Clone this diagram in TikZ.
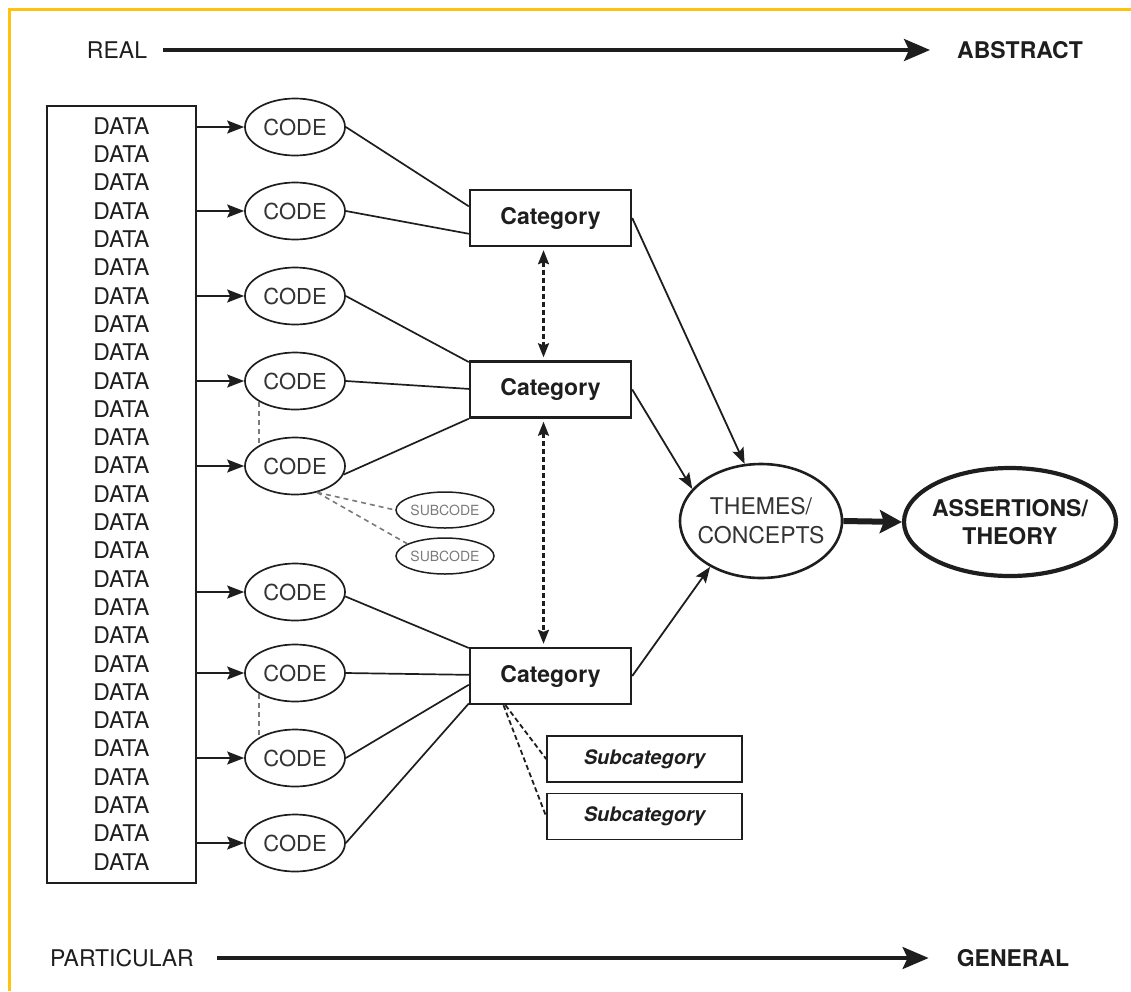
\documentclass[tikz,border=0pt]{standalone}
\usepackage{fontspec}
\setmainfont{TeX Gyre Heros}
\usetikzlibrary{shapes.geometric,arrows.meta,calc}
\definecolor{ink}{HTML}{1E1E1E}
\definecolor{framecol}{HTML}{FFC20E}
\definecolor{dashgray}{HTML}{7A7A7A}
\definecolor{softink}{HTML}{333333}
\begin{document}
\begin{tikzpicture}[x=1pt,y=-1pt,
  txt/.style={font=\fontsize{23}{28}\selectfont, text=ink, inner sep=0pt},
  btxt/.style={font=\fontsize{23}{28}\selectfont\bfseries, text=ink, inner sep=0pt},
  databox/.style={draw=ink, line width=2pt, minimum width=149pt, minimum height=777pt, inner sep=0pt},
  codenode/.style={ellipse, draw=ink, line width=1.7pt, minimum width=100pt, minimum height=57pt, inner sep=0pt, font=\fontsize{22}{26}\selectfont, text=softink},
  catbox/.style={draw=ink, line width=2.4pt, minimum width=161pt, minimum height=56pt, inner sep=0pt, font=\fontsize{23}{26}\selectfont\bfseries, text=ink},
  subcatbox/.style={draw=ink, line width=1.7pt, minimum width=195pt, minimum height=46pt, inner sep=0pt, font=\fontsize{20}{24}\selectfont\bfseries\itshape, text=ink},
  subcodenode/.style={ellipse, draw=ink, line width=1.5pt, minimum width=98pt, minimum height=36pt, inner sep=0pt},
  subcodetxt/.style={font=\fontsize{14}{16}\selectfont, text=dashgray, inner sep=0pt},
  link/.style={draw=ink, line width=1.7pt},
  feed/.style={draw=ink, line width=1.9pt, -{Stealth[length=17pt,width=13pt,inset=3pt]}},
  toward/.style={draw=ink, line width=1.8pt, -{Stealth[length=16pt,width=12pt,inset=3pt]}},
  dbl/.style={draw=ink, line width=2.2pt, dash pattern=on 5pt off 3pt, {Stealth[length=14pt,width=11pt,inset=2pt]}-{Stealth[length=14pt,width=11pt,inset=2pt]}, shorten <=3pt, shorten >=3pt},
  graydash/.style={draw=dashgray, line width=1.6pt, dash pattern=on 5pt off 4pt},
  blackdash/.style={draw=ink, line width=1.8pt, dash pattern=on 5pt off 3pt},
  bigarrow/.style={draw=ink, line width=3.5pt, -{Stealth[length=26pt,width=22pt,inset=5pt]}},
  fatarrow/.style={draw=ink, line width=6pt, -{Stealth[length=22pt,width=23pt,inset=4pt]}}
]
\useasboundingbox (0,0) rectangle (1131,991);
% frame
\draw[framecol, line width=3pt] (9,991) -- (9,9) -- (1131,9);

% top and bottom scales
\node[txt] (real) at (117,50) {REAL};
\node[btxt] (abstract) at (1020,50) {ABSTRACT};
\draw[bigarrow] ([xshift=16pt]real.east) -- ([xshift=-27pt]abstract.west);
\node[txt] (particular) at (122,958) {PARTICULAR};
\node[btxt] (general) at (1013,958) {GENERAL};
\draw[bigarrow] ([xshift=23pt]particular.east) -- ([xshift=-28pt]general.west);

% data column
\node[databox] (data) at (121.5,494.5) {};
\foreach \i in {1,...,27}
  \node[txt] (d\i) at (121.5,{126+(\i-1)*28.3}) {DATA};

% codes
\node[codenode] (c1) at (295,127) {CODE};
\node[codenode] (c2) at (295,211) {CODE};
\node[codenode] (c3) at (295,296) {CODE};
\node[codenode] (c4) at (295,381) {CODE};
\node[codenode] (c5) at (295,466) {CODE};
\node[codenode] (c6) at (295,592) {CODE};
\node[codenode] (c7) at (295,673) {CODE};
\node[codenode] (c8) at (295,758) {CODE};
\node[codenode] (c9) at (295,843) {CODE};
\foreach \k in {1,...,9}
  \draw[feed] (data.east |- c\k) -- (c\k);

% subcodes
\node[subcodenode] (sc1) at (445,510) {};
\node[subcodetxt] (sc1t) at (sc1) {SUBCODE};
\node[subcodenode] (sc2) at (445,556) {};
\node[subcodetxt] (sc2t) at (sc2) {SUBCODE};
\draw[graydash] (c5.-50) -- (sc1.west);
\draw[graydash] (c5.-50) -- (sc2.162);
\draw[graydash] (c4.-150) -- (c5.150);
\draw[graydash] (c7.-150) -- (c8.150);

% categories
\node[catbox] (cat1) at (550.5,218) {Category};
\node[catbox] (cat2) at (550.5,389.5) {Category};
\node[catbox] (cat3) at (550.5,676) {Category};

\draw[link] (c1.east) -- ($(cat1.north west)!0.3!(cat1.south west)$);
\draw[link] (c2.east) -- ($(cat1.north west)!0.77!(cat1.south west)$);
\draw[link] (c3.east) -- ($(cat2.north west)!0.03!(cat2.south west)$);
\draw[link] (c4.east) -- ($(cat2.north west)!0.49!(cat2.south west)$);
\draw[link] (c5.-10) -- (cat2.south west);
\draw[link] (c6.-5) -- ($(cat3.north west)!0.02!(cat3.south west)$);
\draw[link] (c7.east) -- ($(cat3.north west)!0.48!(cat3.south west)$);
\draw[link] (c8.east) -- ($(cat3.north west)!0.65!(cat3.south west)$);
\draw[link] (c9.east) -- ($(cat3.north west)!0.97!(cat3.south west)$);

\draw[dbl] ([xshift=-7pt]cat1.south) -- ([xshift=-7pt]cat2.north);
\draw[dbl] ([xshift=-7pt]cat2.south) -- ([xshift=-7pt]cat3.north);

% subcategories
\node[subcatbox] (sub1) at (644.5,759) {Subcategory};
\node[subcatbox] (sub2) at (644.5,816.5) {Subcategory};
\coordinate (cs) at ([xshift=-45pt]cat3.south);
\draw[blackdash] (cs) -- (sub1.west);
\draw[blackdash] ([xshift=-2pt]cs) -- (sub2.west);

% themes and theory
\node[ellipse, draw=ink, line width=2.6pt, minimum width=162pt, minimum height=114pt, inner sep=0pt] (themes) at (761,521) {};
\node[font=\fontsize{23}{29}\selectfont, text=softink, align=center, inner sep=0pt] (themestxt) at (themes) {THEMES/\\CONCEPTS};
\node[ellipse, draw=ink, line width=4.2pt, minimum width=212pt, minimum height=108pt, inner sep=0pt] (theory) at (1010,522) {};
\node[font=\fontsize{23}{28}\selectfont\bfseries, text=ink, align=center, inner sep=0pt] (theorytxt) at (theory) {ASSERTIONS/\\THEORY};

\draw[toward] (cat1.east) -- (themes.106);
\draw[toward] (cat2.east) -- (themes.155);
\draw[toward] (cat3.east) -- (themes.222);
\draw[fatarrow] (themes.east) -- (theory.west);
\end{tikzpicture}
\end{document}
